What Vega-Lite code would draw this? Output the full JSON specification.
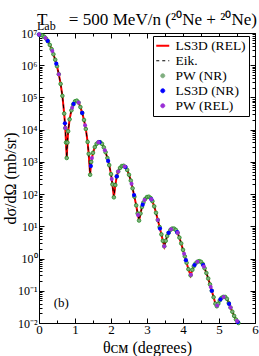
{
  "$schema": "https://vega.github.io/schema/vega-lite/v6.json",
  "width": 216,
  "height": 290,
  "autosize": "none",
  "padding": {"left": 39, "top": 33, "right": 4, "bottom": 33},
  "background": "#ffffff",
  "config": {"view": {"stroke": null}, "font": "Liberation Serif"},
  "title": {
    "text": "T\u2003\u00a0= 500 MeV/n (²⁰Ne + ²⁰Ne)",
    "subtitle": "\u2003Lab",
    "anchor": "start",
    "frame": "group",
    "font": "Liberation Serif",
    "fontSize": 17.1,
    "fontWeight": "normal",
    "color": "#000000",
    "subtitleFont": "Liberation Serif",
    "subtitleFontSize": 12,
    "subtitleColor": "#000000",
    "subtitlePadding": -7,
    "offset": -5,
    "dx": -2
  },
  "datasets": {
    "curve": [
      {"t": 0, "v": 8910000}, {"t": 0.05, "v": 8710000}, {"t": 0.1, "v": 8320000}, {"t": 0.15, "v": 7590000},
      {"t": 0.2, "v": 6610000}, {"t": 0.25, "v": 5500000}, {"t": 0.3, "v": 4270000}, {"t": 0.35, "v": 3160000},
      {"t": 0.4, "v": 2190000}, {"t": 0.45, "v": 1480000}, {"t": 0.5, "v": 933000}, {"t": 0.55, "v": 525000},
      {"t": 0.6, "v": 263000}, {"t": 0.65, "v": 112000}, {"t": 0.7, "v": 31600}, {"t": 0.73, "v": 11200},
      {"t": 0.75, "v": 3980}, {"t": 0.77, "v": 1320}, {"t": 0.79, "v": 3980}, {"t": 0.81, "v": 8910},
      {"t": 0.85, "v": 20900}, {"t": 0.9, "v": 39800}, {"t": 0.95, "v": 60300}, {"t": 1.0, "v": 75900},
      {"t": 1.05, "v": 79400}, {"t": 1.1, "v": 69200}, {"t": 1.15, "v": 50100}, {"t": 1.2, "v": 33100},
      {"t": 1.25, "v": 20000}, {"t": 1.3, "v": 10500}, {"t": 1.35, "v": 4170}, {"t": 1.38, "v": 1780},
      {"t": 1.42, "v": 398}, {"t": 1.45, "v": 1000}, {"t": 1.5, "v": 1905}, {"t": 1.55, "v": 2884},
      {"t": 1.6, "v": 3631}, {"t": 1.65, "v": 4074}, {"t": 1.7, "v": 4074}, {"t": 1.75, "v": 3631},
      {"t": 1.8, "v": 2818}, {"t": 1.85, "v": 1995}, {"t": 1.9, "v": 1318}, {"t": 1.95, "v": 794},
      {"t": 2.0, "v": 417}, {"t": 2.04, "v": 200}, {"t": 2.08, "v": 79.4}, {"t": 2.12, "v": 191},
      {"t": 2.16, "v": 355}, {"t": 2.2, "v": 501}, {"t": 2.25, "v": 646}, {"t": 2.3, "v": 741},
      {"t": 2.35, "v": 759}, {"t": 2.4, "v": 692}, {"t": 2.45, "v": 562}, {"t": 2.5, "v": 398},
      {"t": 2.55, "v": 263}, {"t": 2.6, "v": 151}, {"t": 2.65, "v": 83.2}, {"t": 2.7, "v": 44.7},
      {"t": 2.74, "v": 25.1}, {"t": 2.78, "v": 15.1}, {"t": 2.82, "v": 25.1}, {"t": 2.86, "v": 39.8},
      {"t": 2.9, "v": 55.0}, {"t": 2.95, "v": 70.8}, {"t": 3.0, "v": 81.3}, {"t": 3.05, "v": 83.2},
      {"t": 3.1, "v": 75.9}, {"t": 3.15, "v": 60.3}, {"t": 3.2, "v": 41.7}, {"t": 3.25, "v": 26.3},
      {"t": 3.3, "v": 15.8}, {"t": 3.35, "v": 9.55}, {"t": 3.4, "v": 5.62}, {"t": 3.44, "v": 3.55},
      {"t": 3.48, "v": 2.40}, {"t": 3.52, "v": 3.55}, {"t": 3.56, "v": 5.01}, {"t": 3.6, "v": 6.31},
      {"t": 3.65, "v": 7.76}, {"t": 3.7, "v": 8.51}, {"t": 3.75, "v": 8.51}, {"t": 3.8, "v": 7.76},
      {"t": 3.85, "v": 6.31}, {"t": 3.9, "v": 4.47}, {"t": 3.95, "v": 2.95}, {"t": 4.0, "v": 1.86},
      {"t": 4.05, "v": 1.175}, {"t": 4.1, "v": 0.741}, {"t": 4.15, "v": 0.468}, {"t": 4.21, "v": 0.302},
      {"t": 4.26, "v": 0.447}, {"t": 4.3, "v": 0.575}, {"t": 4.35, "v": 0.708}, {"t": 4.4, "v": 0.794},
      {"t": 4.45, "v": 0.832}, {"t": 4.5, "v": 0.794}, {"t": 4.55, "v": 0.676}, {"t": 4.6, "v": 0.501},
      {"t": 4.65, "v": 0.355}, {"t": 4.7, "v": 0.240}, {"t": 4.75, "v": 0.158}, {"t": 4.8, "v": 0.100},
      {"t": 4.85, "v": 0.0631}, {"t": 4.9, "v": 0.0398}, {"t": 4.94, "v": 0.0331}, {"t": 4.98, "v": 0.0398},
      {"t": 5.02, "v": 0.0501}, {"t": 5.07, "v": 0.0603}, {"t": 5.12, "v": 0.0646}, {"t": 5.17, "v": 0.0646},
      {"t": 5.22, "v": 0.0562}, {"t": 5.27, "v": 0.0417}, {"t": 5.32, "v": 0.0302}, {"t": 5.37, "v": 0.0224},
      {"t": 5.42, "v": 0.0166}, {"t": 5.47, "v": 0.0129}, {"t": 5.52, "v": 0.0107}, {"t": 5.54, "v": 0.0100}
    ],
    "ls3dnr": [
      {"t": 0, "v": 8910000}, {"t": 0.24, "v": 5690000}, {"t": 0.48, "v": 1120000}, {"t": 0.72, "v": 15800},
      {"t": 0.96, "v": 63100}, {"t": 1.2, "v": 33100}, {"t": 1.44, "v": 741}, {"t": 1.68, "v": 4074},
      {"t": 1.92, "v": 1072}, {"t": 2.16, "v": 355}, {"t": 2.4, "v": 692}, {"t": 2.64, "v": 93.3},
      {"t": 2.88, "v": 46.8}, {"t": 3.12, "v": 69.2}, {"t": 3.36, "v": 8.51}, {"t": 3.6, "v": 6.31},
      {"t": 3.84, "v": 6.61}, {"t": 4.08, "v": 0.891}, {"t": 4.32, "v": 0.631}, {"t": 4.56, "v": 0.631},
      {"t": 4.8, "v": 0.100}, {"t": 5.04, "v": 0.0537}, {"t": 5.28, "v": 0.0389}, {"t": 5.52, "v": 0.0107}
    ],
    "pwrel": [
      {"t": 0, "v": 8910000}, {"t": 0.18, "v": 7000000}, {"t": 0.37, "v": 2750000}, {"t": 0.55, "v": 525000},
      {"t": 0.73, "v": 11200}, {"t": 0.92, "v": 47900}, {"t": 1.1, "v": 69200}, {"t": 1.28, "v": 13800},
      {"t": 1.47, "v": 1318}, {"t": 1.65, "v": 4074}, {"t": 1.83, "v": 2291}, {"t": 2.02, "v": 295},
      {"t": 2.2, "v": 501}, {"t": 2.38, "v": 724}, {"t": 2.57, "v": 209}, {"t": 2.75, "v": 22.4},
      {"t": 2.93, "v": 66.1}, {"t": 3.12, "v": 69.2}, {"t": 3.3, "v": 15.8}, {"t": 3.48, "v": 2.40},
      {"t": 3.67, "v": 8.13}, {"t": 3.85, "v": 6.31}, {"t": 4.03, "v": 1.41}, {"t": 4.22, "v": 0.316},
      {"t": 4.4, "v": 0.794}, {"t": 4.58, "v": 0.562}, {"t": 4.77, "v": 0.132}, {"t": 4.95, "v": 0.0347},
      {"t": 5.13, "v": 0.0646}, {"t": 5.32, "v": 0.0302}, {"t": 5.5, "v": 0.0115}
    ],
    "note": [{"label": "(b)"}]
  },
  "layer": [
    {
      "data": {"name": "curve"},
      "mark": {"type": "line", "strokeWidth": 2, "clip": true},
      "encoding": {
        "x": {
          "field": "t", "type": "quantitative",
          "scale": {"domain": [0, 6], "nice": false, "zero": false},
          "axis": {
            "orient": "bottom", "values": [0, 0.5, 1, 1.5, 2, 2.5, 3, 3.5, 4, 4.5, 5, 5.5, 6],
            "labelExpr": "datum.value % 1 === 0 ? format(datum.value, 'd') : ''",
            "tickSize": {"condition": {"test": "datum.value % 1 === 0", "value": -5}, "value": -3},
            "tickColor": "#000000", "domainColor": "#000000", "grid": false,
            "labelFont": "Liberation Serif", "labelFontSize": 13, "labelColor": "#000000",
            "labelFlush": false, "labelOverlap": false, "labelPadding": 5,
            "title": "θᴄᴍ (degrees)", "titleFont": "Liberation Serif", "titleFontSize": 16,
            "titleFontWeight": "normal", "titleColor": "#000000", "titleY": 16, "titleBaseline": "top"
          }
        },
        "y": {
          "field": "v", "type": "quantitative",
          "scale": {"type": "log", "domain": [0.01, 10000000], "nice": false},
          "axis": {
            "orient": "left",
            "values": [0.01,0.02,0.03,0.04,0.05,0.06,0.07,0.08,0.09,0.1,0.2,0.3,0.4,0.5,0.6,0.7,0.8,0.9,1,2,3,4,5,6,7,8,9,10,20,30,40,50,60,70,80,90,100,200,300,400,500,600,700,800,900,1000,2000,3000,4000,5000,6000,7000,8000,9000,10000,20000,30000,40000,50000,60000,70000,80000,90000,100000,200000,300000,400000,500000,600000,700000,800000,900000,1000000,2000000,3000000,4000000,5000000,6000000,7000000,8000000,9000000,10000000],
            "labelExpr": "datum.value == 10000000 ? '10⁷' : datum.value == 1000000 ? '10⁶' : datum.value == 100000 ? '10⁵' : datum.value == 10000 ? '10⁴' : datum.value == 1000 ? '10³' : datum.value == 100 ? '10²' : datum.value == 10 ? '10¹' : datum.value == 1 ? '10⁰' : datum.value == 0.1 ? '10⁻¹' : datum.value == 0.01 ? '10⁻²' : ''",
            "tickSize": {"condition": {"test": "indexof([0.01,0.1,1,10,100,1000,10000,100000,1000000,10000000], datum.value) >= 0", "value": -5}, "value": -3},
            "tickColor": "#000000", "domainColor": "#000000", "grid": false,
            "labelFont": "Liberation Serif", "labelFontSize": 12, "labelColor": "#000000",
            "labelFlush": false, "labelOverlap": false, "labelPadding": 7,
            "title": "dσ/dΩ (mb/sr)", "titleFont": "Liberation Serif", "titleFontSize": 16,
            "titleFontWeight": "normal", "titleColor": "#000000", "titleX": -21
          }
        },
        "color": {
          "datum": "LS3D (REL)",
          "scale": {
            "domain": ["LS3D (REL)", "Eik.", "PW (NR)", "LS3D (NR)", "PW (REL)"],
            "range": ["#ff0000", "#000000", "#7fae7f", "#0000ff", "#9a2ed6"]
          },
          "legend": {
            "orient": "none", "legendX": 114, "legendY": 3, "title": null,
            "padding": 3, "strokeColor": "#000000", "fillColor": "#ffffff",
            "labelFont": "Liberation Serif", "labelFontSize": 13.5, "labelColor": "#000000",
            "symbolSize": 144, "rowPadding": 0, "labelOffset": 6,
            "encode": {"symbols": {"update": {
              "shape": {"signal": "datum.value === 'LS3D (REL)' || datum.value === 'Eik.' ? 'stroke' : 'circle'"},
              "size": {"signal": "datum.value === 'LS3D (REL)' || datum.value === 'Eik.' ? 169 : 16"},
              "strokeDash": {"signal": "datum.value === 'Eik.' ? [3, 3] : [1, 0]"},
              "strokeWidth": {"signal": "datum.value === 'LS3D (REL)' ? 2 : 1"},
              "fill": {"signal": "datum.value === 'PW (NR)' ? '#7fae7f' : datum.value === 'LS3D (NR)' ? '#0000ff' : datum.value === 'PW (REL)' ? '#9a2ed6' : 'transparent'"},
              "stroke": {"signal": "datum.value === 'LS3D (REL)' ? '#ff0000' : datum.value === 'Eik.' ? '#000000' : datum.value === 'PW (NR)' ? '#1e8c1e' : 'transparent'"},
              "opacity": {"value": 1}
            }}}
          }
        }
      }
    },
    {
      "data": {"name": "curve"},
      "mark": {"type": "line", "strokeWidth": 1, "strokeDash": [4, 3], "clip": true},
      "encoding": {
        "x": {
          "field": "t", "type": "quantitative",
          "axis": {
            "orient": "top", "values": [0, 0.5, 1, 1.5, 2, 2.5, 3, 3.5, 4, 4.5, 5, 5.5, 6],
            "labels": false, "title": null,
            "tickSize": {"condition": {"test": "datum.value % 1 === 0", "value": -5}, "value": -3},
            "tickColor": "#000000", "domainColor": "#000000", "grid": false
          }
        },
        "y": {
          "field": "v", "type": "quantitative",
          "axis": {
            "orient": "right",
            "values": [0.01,0.02,0.03,0.04,0.05,0.06,0.07,0.08,0.09,0.1,0.2,0.3,0.4,0.5,0.6,0.7,0.8,0.9,1,2,3,4,5,6,7,8,9,10,20,30,40,50,60,70,80,90,100,200,300,400,500,600,700,800,900,1000,2000,3000,4000,5000,6000,7000,8000,9000,10000,20000,30000,40000,50000,60000,70000,80000,90000,100000,200000,300000,400000,500000,600000,700000,800000,900000,1000000,2000000,3000000,4000000,5000000,6000000,7000000,8000000,9000000,10000000],
            "labels": false, "title": null,
            "tickSize": {"condition": {"test": "indexof([0.01,0.1,1,10,100,1000,10000,100000,1000000,10000000], datum.value) >= 0", "value": -5}, "value": -3},
            "tickColor": "#000000", "domainColor": "#000000", "grid": false
          }
        },
        "color": {"datum": "Eik."}
      }
    },
    {
      "data": {"name": "curve"},
      "mark": {"type": "point", "filled": true, "size": 13, "stroke": "#1e8c1e", "strokeWidth": 0.8, "opacity": 1},
      "encoding": {
        "x": {"field": "t", "type": "quantitative", "axis": null},
        "y": {"field": "v", "type": "quantitative", "axis": null},
        "color": {"datum": "PW (NR)"}
      }
    },
    {
      "data": {"name": "ls3dnr"},
      "mark": {"type": "point", "filled": true, "size": 18, "opacity": 1},
      "encoding": {
        "x": {"field": "t", "type": "quantitative", "axis": null},
        "y": {"field": "v", "type": "quantitative", "axis": null},
        "color": {"datum": "LS3D (NR)"}
      }
    },
    {
      "data": {"name": "pwrel"},
      "mark": {"type": "point", "filled": true, "size": 16, "opacity": 1},
      "encoding": {
        "x": {"field": "t", "type": "quantitative", "axis": null},
        "y": {"field": "v", "type": "quantitative", "axis": null},
        "color": {"datum": "PW (REL)"}
      }
    },
    {
      "data": {"name": "note"},
      "mark": {"type": "text", "font": "Liberation Serif", "fontSize": 13, "color": "#000000"},
      "encoding": {
        "x": {"datum": 0.62, "type": "quantitative", "axis": null},
        "y": {"datum": 0.043, "type": "quantitative", "axis": null},
        "text": {"field": "label"}
      }
    }
  ],
  "resolve": {"axis": {"x": "independent", "y": "independent"}}
}
